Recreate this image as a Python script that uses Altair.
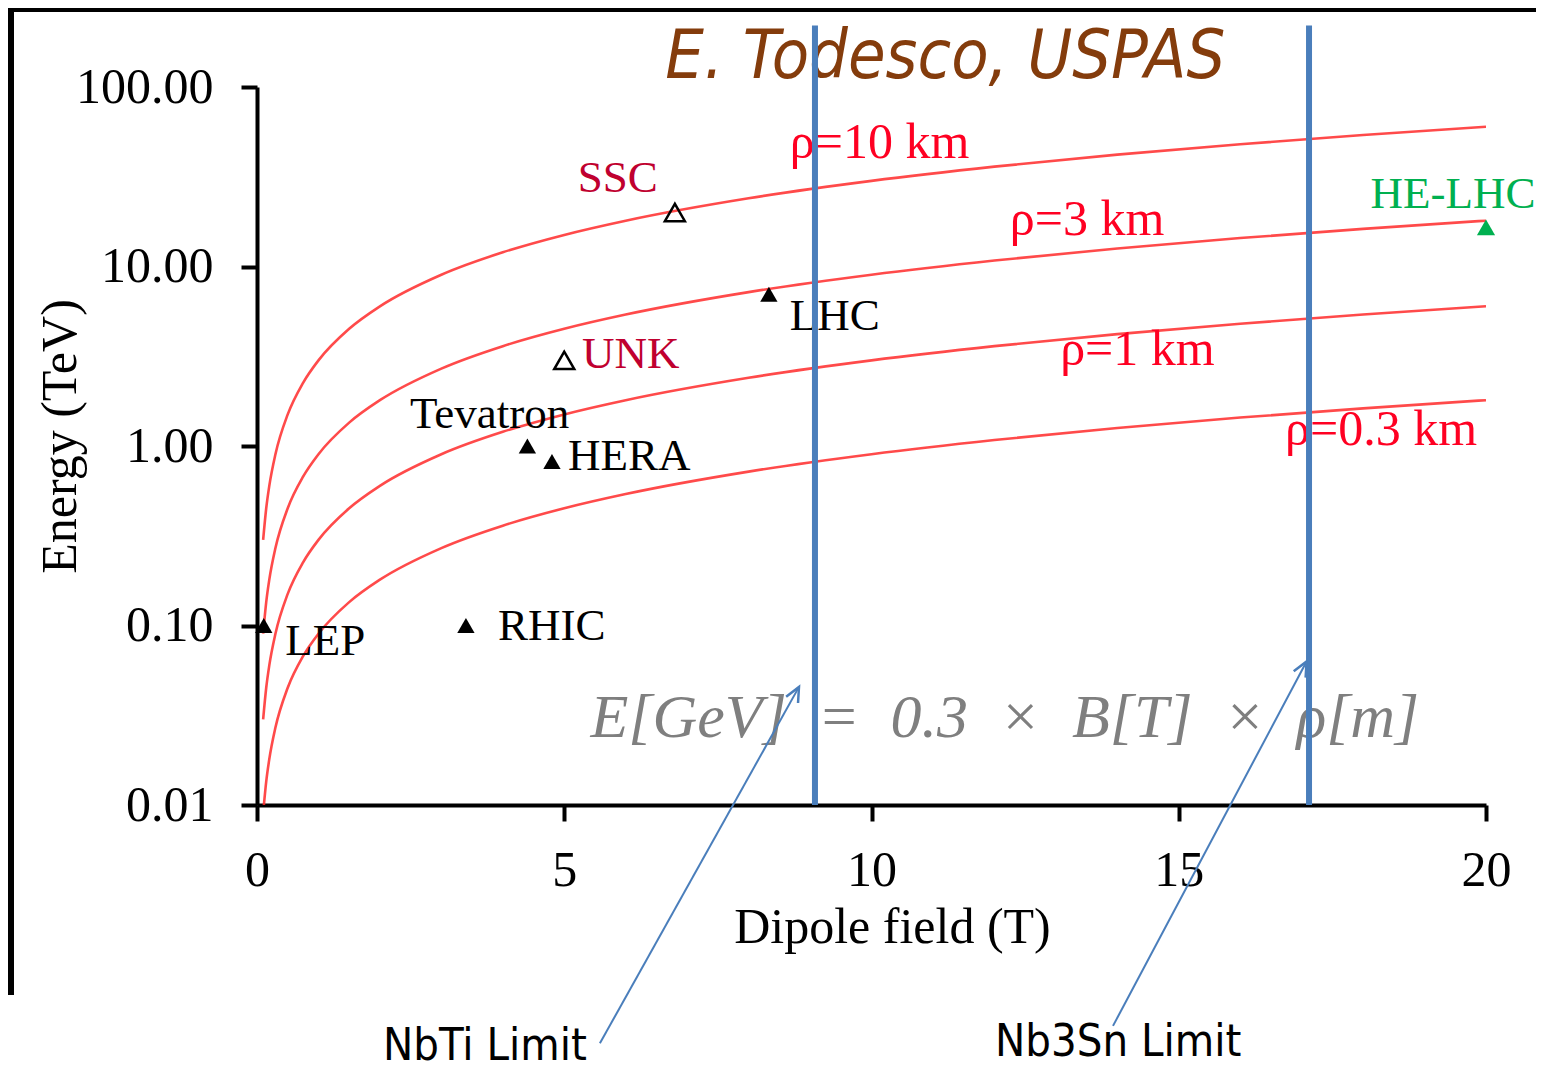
import altair as alt
import pandas as pd

# ---------------- data ----------------
field_T = [0.1, 0.15, 0.2, 0.3, 0.5, 0.75, 1, 1.5, 2, 3, 4, 5, 6, 8, 10, 12, 14, 16, 18, 20]
energy_rho_10km = [0.3, 0.45, 0.6, 0.9, 1.5, 2.25, 3, 4.5, 6, 9, 12, 15, 18, 24, 30, 36, 42, 48, 54, 60]
energy_rho_3km = [0.09, 0.135, 0.18, 0.27, 0.45, 0.675, 0.9, 1.35, 1.8, 2.7, 3.6, 4.5, 5.4, 7.2, 9, 10.8, 12.6, 14.4, 16.2, 18]
energy_rho_1km = [0.03, 0.045, 0.06, 0.09, 0.15, 0.225, 0.3, 0.45, 0.6, 0.9, 1.2, 1.5, 1.8, 2.4, 3, 3.6, 4.2, 4.8, 5.4, 6]
energy_rho_03km = [0.009, 0.0135, 0.018, 0.027, 0.045, 0.0675, 0.09, 0.135, 0.18, 0.27, 0.36, 0.45, 0.54, 0.72, 0.9, 1.08, 1.26, 1.44, 1.62, 1.8]

curve_labels = ["ρ=10 km", "ρ=3 km", "ρ=1 km", "ρ=0.3 km"]
curve_label_B = [8.67, 12.25, 13.07, 16.73]
curve_label_E = [40.0, 15.0, 2.83, 1.01]

machines = ["SSC", "UNK", "LHC", "Tevatron", "HERA", "RHIC", "LEP", "HE-LHC"]
machine_B = [6.8, 5.0, 8.33, 4.4, 4.8, 3.4, 0.11, 20.0]
machine_E = [20.0, 3.0, 7.0, 1.0, 0.82, 0.1, 0.1, 16.5]
machine_kind = ["open", "open", "filled", "filled", "filled", "filled", "filled", "green"]
machine_label_B = [5.22, 5.29, 8.67, 2.49, 5.06, 3.92, 0.46, 18.12]
machine_label_E = [26.0, 2.72, 4.43, 1.26, 0.734, 0.083, 0.0685, 21.2]
machine_label_color = ["#C0002F", "#C0002F", "black", "black", "black", "black", "black", "#00B050"]

limit_names = ["NbTi Limit", "Nb3Sn Limit"]
limit_B = [9.08, 17.12]
limit_text_B = [2.05, 12.01]
limit_text_E = [0.00038, 0.0004]
arrow_from_B = [5.58, 13.93]
arrow_from_E = [0.00047, 0.000588]
arrow_to_B = [8.82, 17.08]
arrow_to_E = [0.0455, 0.063]

title_text = "E. Todesco, USPAS"
formula_text = "E[GeV]\u00a0\u00a0=\u00a0\u00a00.3\u00a0\u00a0×\u00a0\u00a0B[T]\u00a0\u00a0×\u00a0\u00a0ρ[m]"

# ---------------- tables ----------------
n = len(field_T)
curves = pd.DataFrame({
    "B": field_T * 4,
    "E": energy_rho_10km + energy_rho_3km + energy_rho_1km + energy_rho_03km,
    "rho": ["10"] * n + ["3"] * n + ["1"] * n + ["0.3"] * n,
})
curve_lab = pd.DataFrame({"B": curve_label_B, "E": curve_label_E, "t": curve_labels})
mach = pd.DataFrame({"B": machine_B, "E": machine_E, "kind": machine_kind, "name": machines})
mach_lab = pd.DataFrame({"B": machine_label_B, "E": machine_label_E, "t": machines,
                         "c": machine_label_color})
limits = pd.DataFrame({"B": limit_B, "E": [0.01, 0.01], "E2": [220.0, 220.0]})
limit_txt = pd.DataFrame({"B": limit_text_B, "E": limit_text_E, "t": limit_names})
arrows = pd.DataFrame({"B": arrow_from_B, "E": arrow_from_E, "B2": arrow_to_B, "E2": arrow_to_E})
heads = pd.DataFrame({"B": arrow_to_B, "E": arrow_to_E})
title_df = pd.DataFrame({"B": [11.2], "E": [112.0], "t": [title_text]})
formula_df = pd.DataFrame({"B": [12.17], "E": [0.0239], "t": [formula_text]})

SERIF = "Liberation Serif"
NARROW = "DejaVu Sans Condensed, sans-serif"

x_axis = alt.Axis(values=[0, 5, 10, 15, 20], format="d", grid=False,
                  domainColor="black", domainWidth=4, tickColor="black", tickWidth=4,
                  tickSize=16, labelFont=SERIF, labelFontSize=50, labelColor="black",
                  labelPadding=24, labelFlush=False, labelOverlap=False,
                  titleFont=SERIF, titleFontSize=50, titleFontWeight="normal",
                  titleColor="black", titleX=635, titleY=137, titleBaseline="alphabetic",
                  titleAlign="center")
y_axis = alt.Axis(values=[0.01, 0.1, 1, 10, 100], format=".2f", grid=False,
                  domainColor="black", domainWidth=4, tickColor="black", tickWidth=4,
                  tickSize=16, labelFont=SERIF, labelFontSize=50, labelColor="black",
                  labelPadding=28, labelFlush=False, labelOverlap=False,
                  titleFont=SERIF, titleFontSize=50, titleFontWeight="normal",
                  titleColor="black", titleAngle=270, titleX=-182, titleY=349,
                  titleBaseline="alphabetic", titleAlign="center")

xs = alt.Scale(domain=[0, 20], nice=False, zero=False)
ys = alt.Scale(type="log", domain=[0.01, 100], nice=False)


def X(f="B"):
    return alt.X(f"{f}:Q", scale=xs, axis=x_axis, title="Dipole field (T)")


def Y(f="E"):
    return alt.Y(f"{f}:Q", scale=ys, axis=y_axis, title="Energy (TeV)")


lines = alt.Chart(curves).mark_line(color="#FF2A2A", strokeWidth=2.6, opacity=0.85,
                                    clip=True, interpolate="monotone").encode(
    x=X(), y=Y(), detail="rho:N", order="B:Q")

curve_text = alt.Chart(curve_lab).mark_text(font=SERIF, fontSize=50, align="left",
                                            baseline="alphabetic", color="#FF0022").encode(
    x=X(), y=Y(), text="t:N")

mach_text = alt.Chart(mach_lab).mark_text(font=SERIF, fontSize=45, align="left",
                                          baseline="alphabetic").encode(
    x=X(), y=Y(), text="t:N", color=alt.Color("c:N", scale=None))

title = alt.Chart(title_df).mark_text(font=NARROW, fontSize=68, fontStyle="italic",
                                      align="center", baseline="alphabetic",
                                      color="#843C0C").encode(x=X(), y=Y(), text="t:N")

formula = alt.Chart(formula_df).mark_text(font=SERIF, fontSize=62, fontStyle="italic",
                                          align="center", baseline="alphabetic",
                                          color="#7F7F7F").encode(x=X(), y=Y(), text="t:N")

open_pts = alt.Chart(mach).transform_filter(alt.datum.kind == "open").mark_point(
    shape="triangle-up", filled=False, size=400, strokeWidth=2.5, color="black",
    opacity=1).encode(x=X(), y=Y())
filled_pts = alt.Chart(mach).transform_filter(alt.datum.kind == "filled").mark_point(
    shape="triangle-up", filled=True, size=300, color="black", opacity=1).encode(x=X(), y=Y())
green_pts = alt.Chart(mach).transform_filter(alt.datum.kind == "green").mark_point(
    shape="triangle-up", filled=True, size=330, color="#00B050", opacity=1).encode(x=X(), y=Y())

limit_rules = alt.Chart(limits).mark_rule(color="#4A7EBB", strokeWidth=6).encode(
    x=X(), y=Y(), y2="E2:Q")

arrow_lines = alt.Chart(arrows).mark_rule(color="#4A7EBB", strokeWidth=2).encode(
    x=X(), y=Y(), x2="B2:Q", y2="E2:Q")
arrow_heads = alt.Chart(heads).mark_point(shape="M-0.55,1.2L0,0L0.55,1.2", filled=False,
                                          size=600, strokeWidth=2.5, color="#4A7EBB",
                                          angle=28, opacity=1).encode(x=X(), y=Y())

limit_text = alt.Chart(limit_txt).mark_text(font=NARROW, fontSize=45, align="left",
                                            baseline="alphabetic", color="black").encode(
    x=X(), y=Y(), text="t:N")

frame_top = alt.Chart(mach).mark_rule(color="black", strokeWidth=5).encode(
    x=alt.value(-248), x2=alt.value(1300), y=alt.value(-78))
frame_left = alt.Chart(mach).mark_rule(color="black", strokeWidth=5).encode(
    x=alt.value(-246), y=alt.value(-80), y2=alt.value(908))

chart = alt.layer(
    lines, curve_text, mach_text, title, formula,
    open_pts, filled_pts, green_pts,
    limit_rules, arrow_lines, arrow_heads, limit_text,
    frame_top, frame_left,
).properties(
    width=1229, height=718,
    autosize=alt.AutoSizeParams(type="none"),
    padding={"left": 249, "top": 79, "right": 50, "bottom": 267},
    background="white",
).configure_view(stroke=None)

chart.save("out.html", embed_options={"renderer": "svg", "actions": False})
